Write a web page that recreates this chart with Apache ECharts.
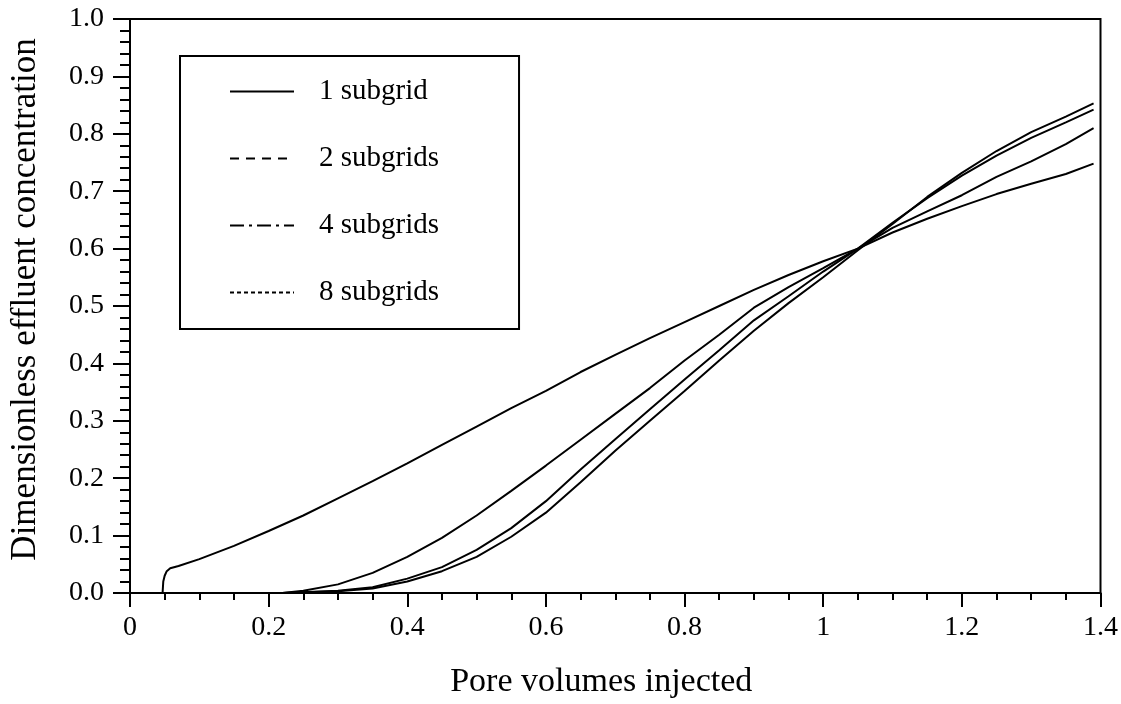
<!DOCTYPE html>
<html>
<head>
<meta charset="utf-8">
<script src="https://cdn.jsdelivr.net/npm/echarts@6/dist/echarts.min.js"></script>
<style>
html,body{margin:0;padding:0;background:#fff;}
#chart{width:1121px;height:704px;}
</style>
</head>
<body>
<div id="chart"></div>
<script>
// ---- data ----
const seriesNames = ['1 subgrid', '2 subgrids', '4 subgrids', '8 subgrids'];
const xTitle = 'Pore volumes injected';
const yTitle = 'Dimensionless effluent concentration';

const subgrid1 = [
  [0, 0], [0.047, 0], [0.048, 0.02], [0.050, 0.030], [0.053, 0.038], [0.058, 0.043],
  [0.07, 0.047], [0.1, 0.059], [0.15, 0.082], [0.2, 0.108], [0.25, 0.135],
  [0.3, 0.165], [0.35, 0.195], [0.4, 0.226], [0.45, 0.258], [0.5, 0.29],
  [0.55, 0.322], [0.6, 0.352], [0.65, 0.385], [0.7, 0.415], [0.75, 0.444],
  [0.8, 0.472], [0.85, 0.5], [0.9, 0.528], [0.95, 0.554], [1.0, 0.578],
  [1.05, 0.6], [1.1, 0.628], [1.15, 0.652], [1.2, 0.674], [1.25, 0.695],
  [1.3, 0.713], [1.35, 0.73], [1.39, 0.748]
];
const subgrid2 = [
  [0, 0], [0.22, 0], [0.25, 0.004], [0.3, 0.015], [0.35, 0.035], [0.4, 0.063],
  [0.45, 0.096], [0.5, 0.135], [0.55, 0.178], [0.6, 0.222], [0.65, 0.267],
  [0.7, 0.312], [0.75, 0.357], [0.8, 0.405], [0.85, 0.45], [0.9, 0.497],
  [0.95, 0.533], [1.0, 0.566], [1.05, 0.6], [1.1, 0.636], [1.15, 0.665],
  [1.2, 0.693], [1.25, 0.725], [1.3, 0.752], [1.35, 0.782], [1.39, 0.81]
];
const subgrid4 = [
  [0, 0], [0.22, 0], [0.3, 0.004], [0.35, 0.01], [0.4, 0.025], [0.45, 0.045],
  [0.5, 0.075], [0.55, 0.113], [0.6, 0.16], [0.65, 0.215], [0.7, 0.268],
  [0.75, 0.32], [0.8, 0.372], [0.85, 0.423], [0.9, 0.475], [0.95, 0.517],
  [1.0, 0.56], [1.05, 0.6], [1.1, 0.645], [1.15, 0.688], [1.2, 0.727],
  [1.25, 0.762], [1.3, 0.793], [1.35, 0.82], [1.39, 0.842]
];
const subgrid8 = [
  [0, 0], [0.22, 0], [0.3, 0.003], [0.35, 0.008], [0.4, 0.02], [0.45, 0.038],
  [0.5, 0.063], [0.55, 0.098], [0.6, 0.14], [0.65, 0.193], [0.7, 0.248],
  [0.75, 0.3], [0.8, 0.352], [0.85, 0.405], [0.9, 0.457], [0.95, 0.505],
  [1.0, 0.55], [1.05, 0.597], [1.1, 0.643], [1.15, 0.69], [1.2, 0.732],
  [1.25, 0.77], [1.3, 0.803], [1.35, 0.83], [1.39, 0.853]
];
const legendDash = ['solid', [9, 7], [14, 5, 3, 5], [4, 3]];

// ---- chart ----
const FONT = '"Liberation Serif", "Times New Roman", serif';
const chart = echarts.init(document.getElementById('chart'), null, {renderer: 'canvas'});
const allData = [subgrid1, subgrid2, subgrid4, subgrid8];

const option = {
  backgroundColor: '#fff',
  animation: false,
  grid: {
    left: 127.5, right: 20.5, top: 19, bottom: 110.5,
    show: true, borderColor: '#000', borderWidth: 2, backgroundColor: 'transparent'
  },
  legend: {
    show: true,
    orient: 'vertical',
    left: 180, top: 56,
    padding: [21, 80, 22, 49],
    borderColor: '#000', borderWidth: 2,
    itemWidth: 64, itemHeight: 28, itemGap: 38,
    textStyle: {fontFamily: FONT, fontSize: 29, color: '#000', padding: [0, 0, 0, 20]},
    data: seriesNames.map((n, i) => ({
      name: n,
      itemStyle: {color: 'rgba(0,0,0,0)', borderWidth: 0, opacity: 0},
      lineStyle: {color: '#000', width: 2, type: legendDash[i], opacity: 1}
    }))
  },
  xAxis: {
    type: 'value', min: 0, max: 1.4, interval: 0.2,
    name: xTitle, nameLocation: 'middle', nameGap: 72,
    nameTextStyle: {fontFamily: FONT, fontSize: 34, color: '#000', padding: [0, 28, 0, 0]},
    axisLine: {show: true, onZero: false, lineStyle: {color: '#000', width: 2}},
    axisTick: {show: true, inside: false, length: 14, lineStyle: {color: '#000', width: 2}},
    minorTick: {show: true, splitNumber: 4, length: 7, lineStyle: {color: '#000', width: 2}},
    axisLabel: {fontFamily: FONT, fontSize: 28, color: '#000', margin: 21},
    splitLine: {show: false}
  },
  yAxis: {
    type: 'value', min: 0, max: 1, interval: 0.1,
    name: yTitle, nameLocation: 'middle', nameGap: 87, nameRotate: 90,
    nameTextStyle: {fontFamily: FONT, fontSize: 35, color: '#000', padding: [0, 0, 0, 13]},
    axisLine: {show: true, onZero: false, lineStyle: {color: '#000', width: 2}},
    axisTick: {show: true, inside: false, length: 17, lineStyle: {color: '#000', width: 2}},
    minorTick: {show: true, splitNumber: 5, length: 10, lineStyle: {color: '#000', width: 2}},
    axisLabel: {fontFamily: FONT, fontSize: 28, color: '#000', margin: 26,
      formatter: v => v.toFixed(1)},
    splitLine: {show: false}
  },
  series: seriesNames.map((n, i) => ({
    name: n,
    type: 'line',
    data: allData[i],
    symbol: 'none',
    smooth: false,
    clip: true,
    lineStyle: {color: '#000', width: 2, type: 'solid'},
    itemStyle: {color: '#000'}
  }))
};
chart.setOption(option);
</script>
</body>
</html>
